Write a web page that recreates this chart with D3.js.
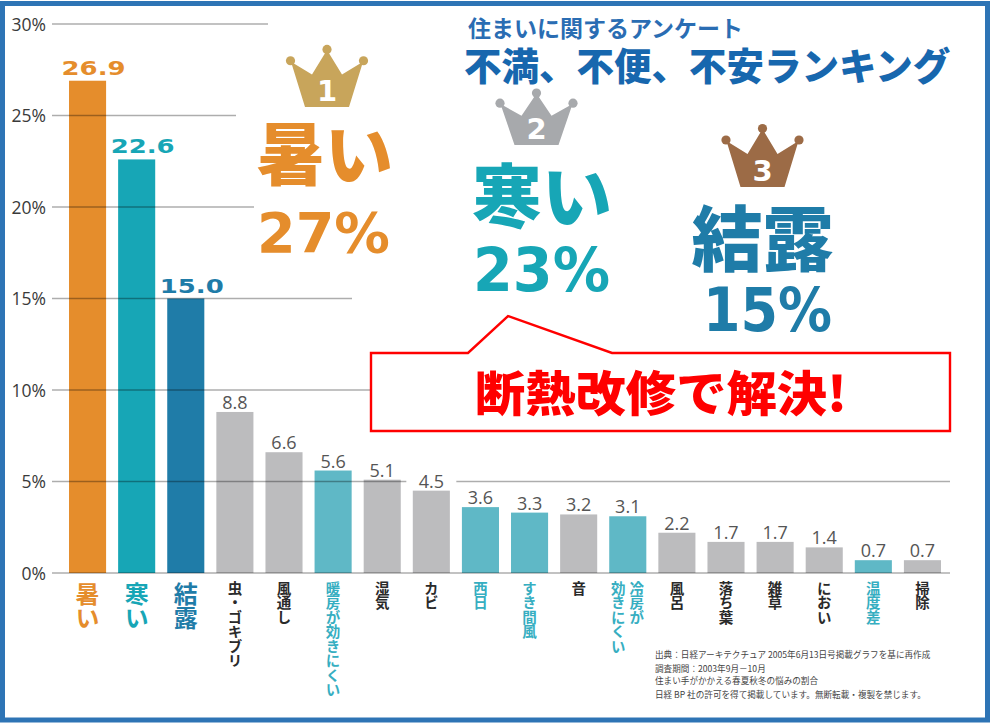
<!DOCTYPE html>
<html>
<head>
<meta charset="utf-8">
<script src="https://cdn.jsdelivr.net/npm/d3@7"></script>
<style>
  html, body { margin: 0; padding: 0; background: #fff; }
  svg { display: block; }
  .vert { writing-mode: vertical-rl; text-orientation: upright; }
</style>
</head>
<body>
<svg id="chart" width="990" height="723"></svg>
<script>
// ---------- data ----------
const categories = ["暑い","寒い","結露","虫・ゴキブリ","風通し","暖房が効きにくい","湿気","カビ","西日","すき間風","音","冷房が効きにくい","風呂","落ち葉","雑草","におい","温度差","掃除"];
const values = [26.9,22.6,15.0,8.8,6.6,5.6,5.1,4.5,3.6,3.3,3.2,3.1,2.2,1.7,1.7,1.4,0.7,0.7];
const groups = ["rank1","rank2","rank3","other","other","temp","other","other","temp","temp","other","temp","other","other","other","other","temp","other"];
const yTicks = [0,5,10,15,20,25,30];
const titleSub = "住まいに関するアンケート";
const titleMain = "不満、不便、不安ランキング";
const calloutText = "断熱改修で解決!";
const footnotes = [
  "出典：日経アーキテクチュア 2005年6月13日号掲載グラフを基に再作成",
  "調査期間：2003年9月－10月",
  "住まい手がかかえる春夏秋冬の悩みの割合",
  "日経 BP 社の許可を得て掲載しています。無断転載・複製を禁じます。"
];
const labelBreaks = { "冷房が効きにくい": ["冷房が","効きにくい"] };

// ---------- styles ----------
const barColor = { rank1:"#E58D2C", rank2:"#17A6B6", rank3:"#1F7CA8", other:"#BCBCBE", temp:"#5FB8C6" };
const labelColor = { rank1:"#E58D2C", rank2:"#17A6B6", rank3:"#1F7CA8", other:"#2a2a2a", temp:"#36AEC1" };
const crownColor = ["#C8A55B","#A7A9AC","#9C6B46"];
const JP = "'Noto Sans CJK JP', 'Noto Sans', sans-serif";
const gridEnd = {0:950, 5:950, 10:950, 15:352, 20:254, 25:236, 30:268};

const svg = d3.select("#chart");

// outer frame
svg.append("rect").attr("x",2.5).attr("y",3.5).attr("width",985).attr("height",716.5)
  .attr("fill","#fff").attr("stroke","#2E74B5").attr("stroke-width",5);

const x = d3.scaleBand().domain(categories).range([63, 947]).paddingInner(0.245).paddingOuter(0.1225);
const y = d3.scaleLinear().domain([0, 30]).range([573, 24]);

// bars
svg.append("g").selectAll("rect").data(categories).join("rect")
  .attr("x", d => x(d))
  .attr("y", (d,i) => y(values[i]))
  .attr("width", x.bandwidth())
  .attr("height", (d,i) => y(0) - y(values[i]))
  .attr("fill", (d,i) => barColor[groups[i]]);

// gridlines (drawn over bars, semi-transparent)
svg.append("g").selectAll("line").data(yTicks).join("line")
  .attr("x1", 52).attr("x2", d => gridEnd[d])
  .attr("y1", d => y(d)).attr("y2", d => y(d))
  .attr("stroke", "#000").attr("stroke-opacity", 0.32).attr("stroke-width", 1.6);

// y axis labels
const yAxis = d3.axisLeft(y).tickValues(yTicks).tickFormat(d => d + "%").tickSize(0).tickPadding(0);
const gy = svg.append("g").attr("transform","translate(46,0)").call(yAxis);
gy.select(".domain").remove();
gy.selectAll("text").attr("font-family","'Open Sans', sans-serif").attr("font-size",17.5)
  .attr("fill","#3a3a3a").attr("dy","0.36em");

// value labels
const vl = svg.append("g");
categories.forEach((c,i) => {
  const cx = x(c) + x.bandwidth()/2;
  const top = y(values[i]);
  if (i < 3) {
    vl.append("text").attr("x", cx + 6).attr("y", top - 6)
      .attr("text-anchor","middle")
      .attr("font-family","'DejaVu Sans', sans-serif").attr("font-weight","bold")
      .attr("font-size",19).attr("fill", labelColor[groups[i]])
      .attr("textLength", 64).attr("lengthAdjust","spacingAndGlyphs")
      .text(values[i].toFixed(1));
  } else {
    vl.append("rect").attr("x", cx - 25).attr("y", top - 17).attr("width", 50).attr("height", 15)
      .attr("fill","#fff");
    vl.append("text").attr("x", cx).attr("y", top - 3)
      .attr("text-anchor","middle")
      .attr("font-family","'Open Sans', sans-serif").attr("font-size",18)
      .attr("fill","#555").text(values[i].toFixed(1));
  }
});

// category labels (vertical writing)
const cl = svg.append("g");
categories.forEach((c,i) => {
  const cx = x(c) + x.bandwidth()/2;
  const cols = labelBreaks[c] || [c];
  const big = i < 3;
  cols.forEach((col, k) => {
    const colX = cx + (cols.length - 1) * 9 - k * 18.5;
    cl.append("text").attr("class","vert")
      .attr("x", colX).attr("y", big ? 582 : 581)
      .attr("font-family", JP).attr("font-weight", 700)
      .attr("font-size", big ? 24 : 14.5)
      .attr("fill", labelColor[groups[i]])
      .text(col);
  });
});

// titles
svg.append("text").attr("x",468).attr("y",37).attr("font-family",JP).attr("font-weight",700)
  .attr("font-size",23).attr("fill","#2A6DB3").text(titleSub);
svg.append("text").attr("x",464).attr("y",80).attr("font-family",JP).attr("font-weight",900)
  .attr("font-size",37.5).attr("fill","#1767AE").text(titleMain);

// ranking: crowns + names + percentages
const rankLayout = [
  { cx:327,   top:45,  h:62, nameX:325, nameY:180, nameFs:68, pctX:323.5, pctY:252, pctFs:55, pctW:133 },
  { cx:536.5, top:89,  h:56, nameX:542, nameY:223, nameFs:70, pctX:541.5, pctY:291, pctFs:60, pctW:137 },
  { cx:762.5, top:124, h:63, nameX:762.5, nameY:265, nameFs:71, pctX:767.5, pctY:331, pctFs:60, pctW:129 }
];
function crownPath(cx, top, h) {
  const b = top + h;
  const sy = h / 63;
  return `M${cx-36},${top+17*sy} L${cx-15},${top+30*sy} L${cx},${top+5*sy} L${cx+15},${top+30*sy} L${cx+36},${top+17*sy} L${cx+22},${b} L${cx-22},${b} Z`;
}
const rg = svg.append("g");
rankLayout.forEach((L, i) => {
  const col = crownColor[i];
  const sy = L.h / 63;
  rg.append("path").attr("d", crownPath(L.cx, L.top, L.h)).attr("fill", col);
  [[-36.5,16],[0,4.5],[36.5,16]].forEach(([dx,dy]) => {
    rg.append("circle").attr("cx", L.cx + dx).attr("cy", L.top + dy*sy).attr("r", 4.6).attr("fill", col);
  });
  rg.append("text").attr("x", L.cx).attr("y", L.top + L.h - 6).attr("text-anchor","middle")
    .attr("font-family","'DejaVu Sans', sans-serif").attr("font-weight","bold")
    .attr("font-size", 29).attr("fill","#fff").text(String(i+1));
  rg.append("text").attr("x", L.nameX).attr("y", L.nameY).attr("text-anchor","middle")
    .attr("font-family", JP).attr("font-weight", 900).attr("font-size", L.nameFs)
    .attr("fill", barColor[groups[i]]).text(categories[i]);
  rg.append("text").attr("x", L.pctX).attr("y", L.pctY).attr("text-anchor","middle")
    .attr("font-family","'DejaVu Sans', sans-serif").attr("font-weight","bold")
    .attr("font-size", L.pctFs).attr("fill", barColor[groups[i]])
    .attr("textLength", L.pctW).attr("lengthAdjust","spacingAndGlyphs")
    .text(Math.round(values[i]) + "%");
});

// callout
svg.append("path")
  .attr("d","M371,353 H468 L508,316 L612,353 H950 V431 H371 Z")
  .attr("fill","#fff").attr("stroke","#FF0000").attr("stroke-width",2.4).attr("stroke-linejoin","miter");
svg.append("text").attr("x",475).attr("y",411)
  .attr("font-family",JP).attr("font-weight",900).attr("font-size",48)
  .attr("fill","#FF0000").attr("textLength",372).attr("lengthAdjust","spacingAndGlyphs")
  .text(calloutText);

// footnotes
svg.append("g").selectAll("text").data(footnotes).join("text")
  .attr("x",655).attr("y",(d,i) => [658,672,684,698][i])
  .attr("font-family",JP).attr("font-size",8.6).attr("fill","#444")
  .text(d => d);
</script>
</body>
</html>
